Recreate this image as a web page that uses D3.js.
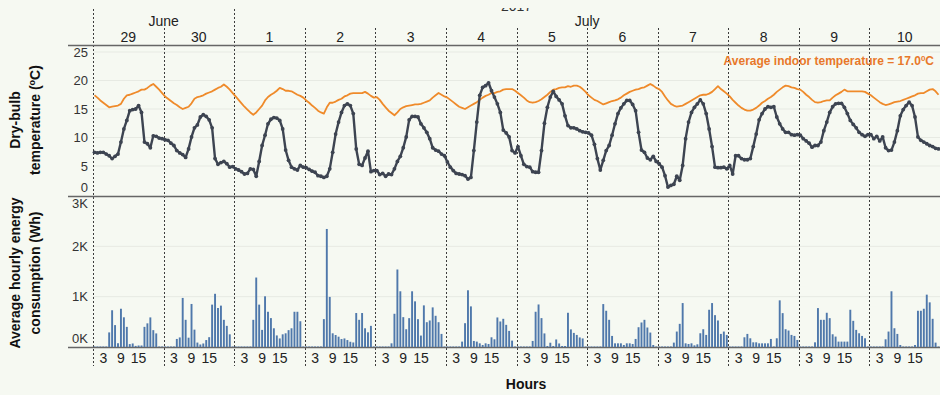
<!DOCTYPE html>
<html>
<head>
<meta charset="utf-8">
<script src="https://cdn.jsdelivr.net/npm/d3@7"></script>
<style>
  body { margin: 0; background: #f6f9f2; }
  svg { display: block; font-family: Arial, "Liberation Sans", sans-serif; }
</style>
</head>
<body>
<svg id="chart"></svg>
<script>
// ---- data ----
const year = "2017";
const dayLabels = ["29", "30", "1", "2", "3", "4", "5", "6", "7", "8", "9", "10"];
const dayMonths = ["June", "June", "July", "July", "July", "July", "July", "July", "July", "July", "July", "July"];
const hourTicks = [3, 9, 15];
const tempTicks = [0, 5, 10, 15, 20, 25];
const energyTicks = [0, 1000, 2000, 3000];
const avgIndoor = "17.0";

// outdoor dry-bulb temperature, one row per day, 24 hourly values (°C)
const outdoorTemp = [
  [7.4,7.3,7.4,7.4,7.1,6.8,6.3,6.7,7.1,9.2,11.5,13.0,14.7,14.9,15.0,15.6,14.4,9.2,8.9,8.2,10.3,10.2,9.9,9.8],
  [9.6,9.5,9.0,8.6,7.7,7.3,7.0,6.5,8.0,10.1,11.7,12.2,13.6,14.0,13.7,13.1,11.7,6.3,5.3,5.6,5.8,5.4,4.8,4.9],
  [4.5,4.3,4.0,3.6,3.7,4.5,4.4,3.2,5.8,8.6,10.4,12.4,13.2,13.5,13.4,13.0,11.5,7.8,6.0,4.8,4.5,4.3,5.1,4.8],
  [4.7,4.4,4.1,3.9,3.3,3.2,3.0,3.2,4.5,7.4,10.6,12.7,14.4,15.6,15.9,15.6,14.2,8.0,5.3,5.1,6.4,7.6,4.0,4.2],
  [4.2,3.5,3.7,3.2,3.6,3.5,4.5,5.8,6.7,8.2,10.1,13.1,13.7,13.7,13.6,12.4,11.7,10.9,9.8,8.2,7.8,7.6,7.1,6.8],
  [5.7,4.8,4.2,3.7,3.6,3.5,3.3,2.7,3.0,7.7,12.7,17.4,18.8,19.1,19.6,18.2,17.1,15.9,14.4,11.3,10.8,10.1,7.7,7.3],
  [8.4,6.8,5.3,4.9,4.8,4.0,3.9,3.9,7.7,12.5,15.3,17.1,18.1,17.2,16.6,15.9,13.8,12.1,11.7,11.7,11.5,11.2,11.0,10.9],
  [10.8,10.4,8.8,6.3,4.3,6.0,7.7,8.6,10.4,12.4,14.2,15.2,15.9,16.5,16.5,15.8,14.7,10.9,7.8,7.4,6.4,6.1,6.7,5.8],
  [5.4,4.8,3.3,1.3,1.6,1.8,3.2,2.5,5.1,9.8,12.7,14.4,15.3,15.9,16.6,15.9,14.2,11.5,8.4,4.8,4.7,4.7,4.8,4.5],
  [5.1,3.6,6.8,6.8,6.3,6.1,6.1,6.3,8.4,10.6,13.1,14.2,15.0,15.4,15.3,15.4,13.6,12.4,11.5,10.9,10.9,10.5,10.4,10.5],
  [10.4,9.8,9.4,9.0,8.3,8.6,8.6,9.2,11.2,12.7,14.4,15.4,15.9,16.0,16.0,15.3,14.2,13.0,12.3,11.7,10.9,10.5,10.2,10.5],
  [10.5,9.8,10.2,9.4,10.1,8.2,7.7,7.8,9.2,11.2,13.8,14.9,15.6,16.2,15.6,13.6,10.1,9.5,9.2,8.9,8.6,8.4,8.1,8.0]
];

// indoor temperature (°C)
const indoorTemp = [
  [17.4,17.0,16.5,16.1,15.7,15.3,15.4,15.5,15.6,15.9,16.8,17.4,17.5,17.7,17.9,18.1,18.4,18.4,18.7,19.1,19.4,18.9,18.4,17.8],
  [17.2,16.8,16.4,16.0,15.7,15.3,15.0,15.2,15.4,16.0,16.8,17.1,17.2,17.4,17.7,17.9,18.1,18.4,18.7,18.9,19.3,18.9,18.4,17.8],
  [17.2,16.6,16.0,15.4,14.9,14.4,14.0,14.4,15.0,15.6,16.5,17.1,17.5,17.8,18.2,18.7,18.5,18.2,18.2,18.1,17.8,17.5,17.3,17.0],
  [16.5,16.1,15.6,15.2,14.7,14.4,14.2,15.3,16.1,16.1,16.3,16.6,16.8,17.2,17.4,17.7,17.8,17.8,17.8,17.8,18.0,17.7,17.3,17.0],
  [17.1,16.6,15.9,15.3,14.7,14.3,13.9,14.4,15.0,15.3,15.5,15.6,15.7,15.8,15.8,15.9,16.1,16.3,16.5,17.0,17.4,17.8,17.5,17.2],
  [17.0,16.6,16.2,15.8,15.4,15.2,15.0,15.3,15.6,15.9,16.2,16.6,17.0,17.3,17.5,17.8,17.8,18.0,18.1,18.4,18.5,18.5,18.5,18.2],
  [17.8,17.4,17.0,16.5,16.2,16.1,16.2,16.4,16.7,17.1,17.5,18.0,18.4,18.5,18.7,18.8,18.8,19.0,18.9,19.1,19.1,18.9,18.5,18.0],
  [17.4,17.0,16.6,16.4,16.1,15.8,16.0,16.2,16.4,16.5,16.7,17.0,17.4,17.7,18.0,18.2,18.4,18.5,18.7,18.8,19.1,19.4,19.1,18.7],
  [18.5,18.0,17.2,16.5,15.9,15.6,15.4,15.5,15.6,15.9,16.2,16.5,16.8,17.1,17.4,17.5,17.5,17.7,18.0,18.5,19.0,18.5,18.1,17.7],
  [17.2,16.6,16.1,15.6,15.2,14.9,14.7,14.7,14.9,15.2,15.6,16.1,16.4,16.8,17.1,17.5,18.0,18.4,18.8,19.1,19.0,18.8,18.7,18.5],
  [18.4,18.0,17.5,17.1,16.6,16.2,16.1,16.2,16.4,16.5,16.5,17.0,17.4,17.7,18.0,18.4,18.1,18.1,18.1,18.1,18.1,18.1,18.0,17.7],
  [17.4,17.0,16.6,16.2,15.9,15.7,15.8,16.0,16.2,16.3,16.4,16.6,16.8,17.0,17.2,17.4,17.7,17.8,17.8,18.1,18.4,18.5,18.1,17.5]
];

// average hourly energy consumption (Wh)
const energyWh = [
  [10,10,10,10,10,290,730,435,75,760,590,400,58,70,22,30,30,400,470,588,335,270,10,10],
  [10,10,10,10,160,190,975,540,185,855,345,88,50,70,138,195,842,1057,775,822,540,420,252,10],
  [10,10,10,10,10,10,540,1380,842,340,1007,700,574,372,230,170,252,272,335,372,700,700,512,10],
  [10,10,10,10,10,10,554,2345,995,272,238,205,158,170,138,104,90,675,540,675,372,292,420,10],
  [10,10,10,10,10,73,660,1540,1107,593,353,573,1107,907,553,227,827,493,527,787,620,493,260,10],
  [10,10,10,10,10,107,473,1127,807,120,107,73,40,73,60,193,153,587,507,560,440,320,127,10],
  [10,10,10,10,10,120,700,845,574,270,20,85,20,150,70,20,20,680,350,280,240,190,170,10],
  [10,10,10,10,10,853,720,540,220,73,73,73,40,73,73,60,160,393,487,540,387,287,40,10],
  [10,10,10,10,10,87,307,460,873,73,60,73,33,53,273,353,240,740,873,633,527,260,307,240],
  [10,10,10,10,10,193,260,173,93,93,73,73,73,73,160,10,173,927,673,353,327,240,220,140],
  [10,10,10,10,10,93,773,540,540,680,573,253,207,107,107,107,107,740,520,340,273,220,173,10],
  [10,10,10,10,10,153,307,1107,373,260,40,10,10,10,10,40,720,720,760,1040,887,560,87,10]
];

// ---- layout ----
const width = 940, height = 395;
const left = 93, right = 940;
const tempTop = 45, tempBottom = 196;
const enTop = 196, enBottom = 347;

const svg = d3.select("#chart").attr("width", width).attr("height", height);

const dayScale = d3.scaleBand().domain(d3.range(dayLabels.length)).range([left, right]);
const hourScale = d3.scaleBand().domain(d3.range(24))
    .range([0, dayScale.bandwidth()])
    .paddingInner(0.35).paddingOuter(0.175);
const xc = (d, h) => dayScale(d) + hourScale(h) + hourScale.bandwidth() / 2;

const yTemp = d3.scaleLinear().domain([0, 25]).range([194.5, 52]);
const yEnergy = d3.scaleLinear().domain([0, 3000]).range([enBottom, enTop]);

const flat = rows => rows.flatMap((row, d) => row.map((v, h) => ({ d, h, v })));

// gridlines
svg.append("g").selectAll("line")
    .data(tempTicks.filter(t => t > 0))
    .join("line")
    .attr("x1", left).attr("x2", right)
    .attr("y1", d => yTemp(d)).attr("y2", d => yTemp(d))
    .attr("stroke", "#e7eae3").attr("stroke-width", 1);
svg.append("g").selectAll("line")
    .data(energyTicks.filter(t => t > 0 && t < 3000))
    .join("line")
    .attr("x1", left).attr("x2", right)
    .attr("y1", d => yEnergy(d)).attr("y2", d => yEnergy(d))
    .attr("stroke", "#e7eae3").attr("stroke-width", 1);

// day separators (dashed), longer at month starts
const sepX = dayLabels.map((_, i) => dayScale(i)).concat([right - 0.5]);
svg.append("g").selectAll("line")
    .data(sepX)
    .join("line")
    .attr("x1", d => Math.round(d) + 0.5).attr("x2", d => Math.round(d) + 0.5)
    .attr("y1", (d, i) => (i === 0 || (i < dayMonths.length && dayMonths[i] !== dayMonths[i - 1]) || i === dayMonths.length) ? 9 : 28)
    .attr("y2", 366)
    .attr("stroke", "#3c3c3c").attr("stroke-width", 1)
    .attr("stroke-dasharray", "2,2");

// horizontal frame lines
[tempTop, enTop, enBottom].forEach(y => {
  svg.append("line")
      .attr("x1", 68).attr("x2", right)
      .attr("y1", y + 0.5).attr("y2", y + 0.5)
      .attr("stroke", "#666").attr("stroke-width", 1.5);
});

// bars
svg.append("g").selectAll("rect")
    .data(flat(energyWh))
    .join("rect")
    .attr("x", d => dayScale(d.d) + hourScale(d.h))
    .attr("width", hourScale.bandwidth())
    .attr("y", d => yEnergy(d.v))
    .attr("height", d => enBottom - yEnergy(d.v))
    .attr("fill", "#4f78ab");

// indoor temperature line
svg.append("path")
    .datum(flat(indoorTemp))
    .attr("fill", "none")
    .attr("stroke", "#ef8a2a")
    .attr("stroke-width", 1.8)
    .attr("stroke-linejoin", "round")
    .attr("d", d3.line().x(d => xc(d.d, d.h)).y(d => yTemp(d.v)));

// outdoor dry-bulb line with markers
const outdoor = flat(outdoorTemp);
svg.append("path")
    .datum(outdoor)
    .attr("fill", "none")
    .attr("stroke", "#3d4451")
    .attr("stroke-width", 2.4)
    .attr("stroke-linejoin", "round")
    .attr("d", d3.line().x(d => xc(d.d, d.h)).y(d => yTemp(d.v)));
svg.append("g").selectAll("circle")
    .data(outdoor)
    .join("circle")
    .attr("cx", d => xc(d.d, d.h))
    .attr("cy", d => yTemp(d.v))
    .attr("r", 1.9)
    .attr("fill", "#3d4451");

// y tick labels, kept inside their pane
const clampLabel = (y, top, bottom) => Math.max(top + 7, Math.min(bottom - 9, y));
svg.append("g").selectAll("text")
    .data(tempTicks)
    .join("text")
    .attr("x", 88)
    .attr("y", d => clampLabel(yTemp(d), tempTop, tempBottom))
    .attr("dy", "0.35em")
    .attr("text-anchor", "end")
    .attr("font-size", 13).attr("fill", "#333")
    .text(d => d);
svg.append("g").selectAll("text")
    .data(energyTicks)
    .join("text")
    .attr("x", 88)
    .attr("y", d => clampLabel(yEnergy(d), enTop, enBottom))
    .attr("dy", "0.35em")
    .attr("text-anchor", "end")
    .attr("font-size", 13).attr("fill", "#333")
    .text(d => d3.format("d")(d / 1000) + "K");

// header: year (mostly cut off at the top), months, days
svg.append("clipPath").attr("id", "yearClip")
  .append("rect").attr("x", 0).attr("y", 8).attr("width", width).attr("height", 6);
svg.append("text")
    .attr("clip-path", "url(#yearClip)")
    .attr("x", (left + right) / 2).attr("y", 11)
    .attr("text-anchor", "middle")
    .attr("font-size", 14).attr("fill", "#333")
    .text(year);

const monthGroups = d3.groups(dayLabels.map((_, i) => i), i => dayMonths[i]);
svg.append("g").selectAll("text")
    .data(monthGroups)
    .join("text")
    .attr("x", ([, idx]) => (dayScale(idx[0]) + dayScale(idx[idx.length - 1]) + dayScale.bandwidth()) / 2)
    .attr("y", 21).attr("dy", "0.35em")
    .attr("text-anchor", "middle")
    .attr("font-size", 14).attr("fill", "#222")
    .text(([m]) => m);

svg.append("g").selectAll("text")
    .data(dayLabels)
    .join("text")
    .attr("x", (d, i) => dayScale(i) + dayScale.bandwidth() / 2)
    .attr("y", 37).attr("dy", "0.35em")
    .attr("text-anchor", "middle")
    .attr("font-size", 14).attr("fill", "#222")
    .text(d => d);

// hour labels under bars
svg.append("g").selectAll("text")
    .data(dayLabels.flatMap((_, d) => hourTicks.map(h => ({ d, h }))))
    .join("text")
    .attr("x", d => xc(d.d, d.h))
    .attr("y", 358).attr("dy", "0.35em")
    .attr("text-anchor", "middle")
    .attr("font-size", 14).attr("fill", "#222")
    .text(d => d.h);

// annotation
const note = svg.append("text")
    .attr("x", 934).attr("y", 61).attr("dy", "0.35em")
    .attr("text-anchor", "end")
    .attr("font-size", 12).attr("font-weight", "bold")
    .attr("fill", "#e8782a");
note.append("tspan").text("Average indoor temperature = " + avgIndoor);
note.append("tspan").attr("baseline-shift", "super").attr("font-size", 8).text("0");
note.append("tspan").text("C");

// axis titles
function rotTitle(x, y, parts) {
  const t = svg.append("text")
      .attr("transform", `translate(${x},${y}) rotate(-90)`)
      .attr("text-anchor", "middle")
      .attr("font-size", 14).attr("font-weight", "bold").attr("fill", "#111");
  parts.forEach(p => {
    const s = t.append("tspan").text(p.text);
    if (p.sup) s.attr("baseline-shift", "super").attr("font-size", 9);
  });
}
rotTitle(20, 120, [{ text: "Dry-bulb" }]);
rotTitle(40, 120, [{ text: "temperature (" }, { text: "o", sup: true }, { text: "C)" }]);
rotTitle(20, 273, [{ text: "Average hourly energy" }]);
rotTitle(40, 273, [{ text: "consumption (Wh)" }]);

svg.append("text")
    .attr("x", 526).attr("y", 384).attr("dy", "0.35em")
    .attr("text-anchor", "middle")
    .attr("font-size", 14).attr("font-weight", "bold").attr("fill", "#111")
    .text("Hours");
</script>
</body>
</html>
